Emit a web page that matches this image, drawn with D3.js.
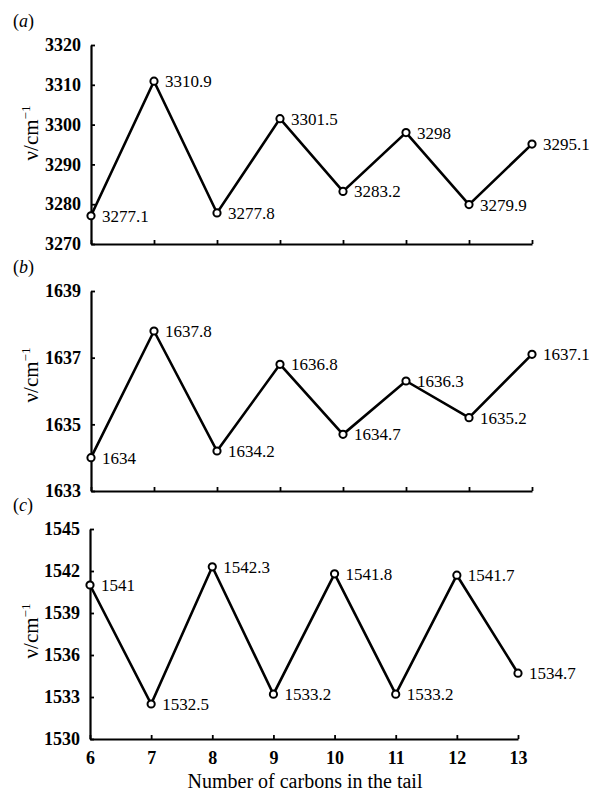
<!DOCTYPE html>
<html><head><meta charset="utf-8">
<script src="https://cdn.jsdelivr.net/npm/d3@7"></script>
<style>body{margin:0;background:#fff;} svg{display:block;}</style>
</head><body>
<script>
const carbons = [6, 7, 8, 9, 10, 11, 12, 13];
const seriesA = [3277.1, 3310.9, 3277.8, 3301.5, 3283.2, 3298, 3279.9, 3295.1];
const seriesB = [1634, 1637.8, 1634.2, 1636.8, 1634.7, 1636.3, 1635.2, 1637.1];
const seriesC = [1541, 1532.5, 1542.3, 1533.2, 1541.8, 1533.2, 1541.7, 1534.7];
const ticksA = [3270, 3280, 3290, 3300, 3310, 3320];
const ticksB = [1633, 1635, 1637, 1639];
const ticksC = [1530, 1533, 1536, 1539, 1542, 1545];
const panelLetters = ["a", "b", "c"];
const xTitle = "Number of carbons in the tail";

const W = 594, H = 793;
const FONT = '"Liberation Serif", "Times New Roman", serif';
const svg = d3.select("body").append("svg").attr("width", W).attr("height", H);

const panels = [
  {vals: seriesA, ticks: ticksA, x0: 91, x1: 532, yTop: 45, yBot: 244, letterY: 27, titleY: 133, showX: false},
  {vals: seriesB, ticks: ticksB, x0: 91, x1: 532, yTop: 291, yBot: 491, letterY: 273, titleY: 375, showX: false},
  {vals: seriesC, ticks: ticksC, x0: 90, x1: 518, yTop: 529, yBot: 739, letterY: 511, titleY: 631, showX: true}
];

panels.forEach((p, i) => {
  const x = d3.scaleLinear().domain([carbons[0], carbons[carbons.length - 1]]).range([p.x0, p.x1]);
  const y = d3.scaleLinear().domain([p.ticks[0], p.ticks[p.ticks.length - 1]]).range([p.yBot, p.yTop]);
  const g = svg.append("g");

  const ya = g.append("g").attr("transform", `translate(${p.x0},0)`)
    .call(d3.axisLeft(y).tickValues(p.ticks).tickFormat(d3.format("d")).tickSizeInner(-4).tickSizeOuter(0).tickPadding(10));
  const xa = g.append("g").attr("transform", `translate(0,${p.yBot})`)
    .call(d3.axisBottom(x).tickValues(carbons).tickFormat(p.showX ? d3.format("d") : () => "").tickSizeInner(-4).tickSizeOuter(0).tickPadding(12));
  [ya, xa].forEach(a => {
    a.select(".domain").attr("stroke", "#000").attr("stroke-width", 2.2);
    a.selectAll(".tick line").attr("stroke", "#000").attr("stroke-width", 1.8);
    a.selectAll("text").style("font-family", FONT).style("font-size", "18px").style("font-weight", "bold").attr("fill", "#000");
  });

  const line = d3.line().x((d, j) => x(carbons[j])).y(d => y(d));
  g.append("path").datum(p.vals).attr("d", line).attr("fill", "none").attr("stroke", "#000").attr("stroke-width", 2.6).attr("stroke-linejoin", "miter");

  g.selectAll("circle").data(p.vals).join("circle")
    .attr("cx", (d, j) => x(carbons[j])).attr("cy", d => y(d)).attr("r", 3.6)
    .attr("fill", "#fff").attr("stroke", "#000").attr("stroke-width", 2);

  g.selectAll("text.lbl").data(p.vals).join("text").attr("class", "lbl")
    .attr("x", (d, j) => x(carbons[j]) + 11).attr("y", d => y(d)).attr("dy", "0.35em")
    .style("font-family", FONT).style("font-size", "17px").attr("fill", "#000")
    .text(d => String(d));

  const lt = svg.append("text").attr("x", 13).attr("y", p.letterY)
    .style("font-family", FONT).style("font-size", "18px").attr("fill", "#000");
  lt.append("tspan").text("(");
  lt.append("tspan").style("font-style", "italic").text(panelLetters[i]);
  lt.append("tspan").text(")");

  const t = svg.append("text").attr("transform", `translate(38,${p.titleY}) rotate(-90)`)
    .attr("text-anchor", "middle").style("font-family", FONT).style("font-size", "21px").attr("fill", "#000");
  t.append("tspan").text("ν/cm");
  t.append("tspan").style("font-size", "13px").attr("dy", "-0.6em").text("−1");

  if (p.showX) {
    svg.append("text").attr("x", (p.x0 + p.x1) / 2 + 1).attr("y", 788)
      .attr("text-anchor", "middle").style("font-family", FONT).style("font-size", "20px").attr("fill", "#000")
      .text(xTitle);
  }
});
</script>
</body></html>
